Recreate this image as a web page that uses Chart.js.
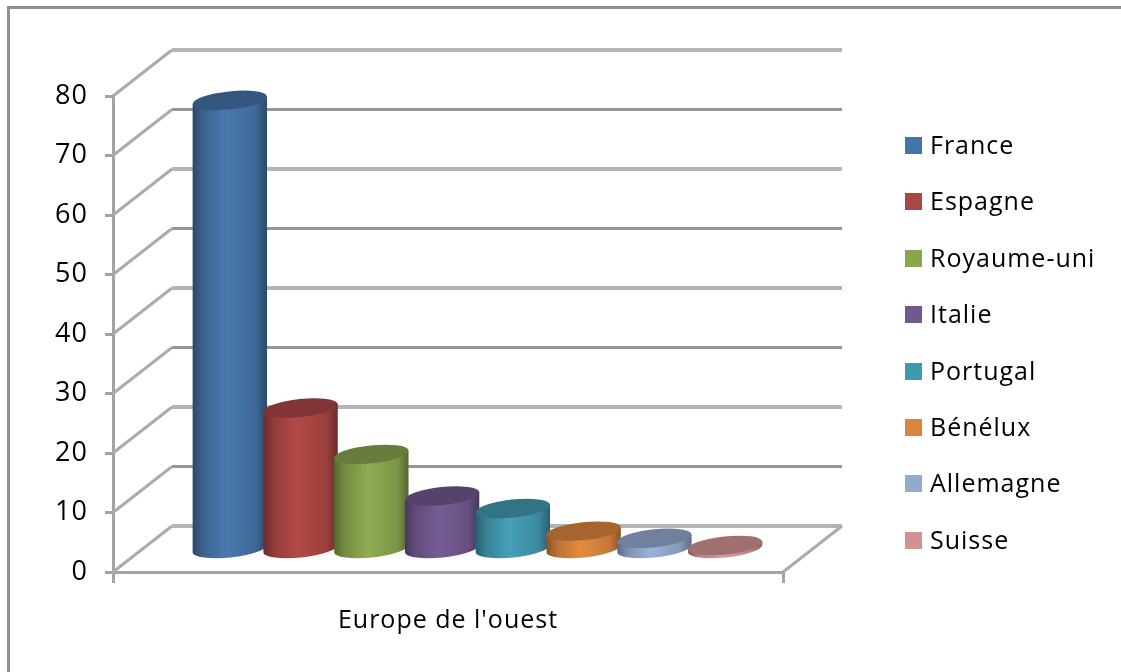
<!DOCTYPE html>
<html>
<head>
<meta charset="utf-8">
<script src="https://cdn.jsdelivr.net/npm/chart.js@4"></script>
<style>
html, body { margin:0; padding:0; width:1121px; height:672px; overflow:hidden; background:#fff; }
#frame { position:absolute; left:7px; top:6px; width:1300px; height:900px; border:3px solid #8f8f8f; filter:blur(0.4px); }
#chartWrap { position:absolute; left:0; top:0; width:1121px; height:672px; filter:blur(0.5px); }
.graphLegendBox { position:absolute; left:905px; top:116px; font:25px "Open Sans", sans-serif; letter-spacing:1px; color:#000; filter:blur(0.3px); }
.graphLegendBox ul { list-style:none; margin:0; padding:0; }
.graphLegendBox li { height:56.4px; line-height:56.4px; white-space:nowrap; }
.graphLegendBox span { display:inline-block; width:17px; height:17px; margin-right:8px; }
</style>
</head>
<body>
<div id="frame"></div>
<div id="chartWrap"><canvas id="chart" width="1121" height="672"></canvas></div>
<script>
var categories = ["Europe de l'ouest"];
var countries = ['France','Espagne','Royaume-uni','Italie','Portugal','Bénélux','Allemagne','Suisse'];
var shares = [75.4, 23.7, 15.9, 8.9, 6.8, 3, 1.8, 0.6];
var yTicks = [0, 80, 10]; // min, max, step
var barColors = ['#4573a7','#aa4644','#89a54e','#71588f','#4298af','#db843d','#93a9cf','#d19392'];

var depthX = 59, depthY = -46;
var tilt = -6 * Math.PI / 180;

var shade = function(hex, f) {
	var n = parseInt(hex.slice(1), 16);
	var r = Math.min(255, Math.round((n >> 16) * f));
	var g = Math.min(255, Math.round(((n >> 8) & 255) * f));
	var b = Math.min(255, Math.round((n & 255) * f));
	return 'rgb(' + r + ',' + g + ',' + b + ')';
};

var drawCylinder = function(ctx, bar, color) {
	var cx = bar.x + depthX / 2;
	var top = bar.y + depthY / 2;
	var bottom = bar.base + depthY / 2 + 1;
	var rx = bar.width / 2 + 2;
	var ry = 9;
	var dx = rx * Math.cos(tilt), dy = rx * Math.sin(tilt);

	var grad = ctx.createLinearGradient(cx - rx, 0, cx + rx, 0);
	grad.addColorStop(0, shade(color, 0.62));
	grad.addColorStop(0.14, shade(color, 0.85));
	grad.addColorStop(0.45, shade(color, 1.05));
	grad.addColorStop(0.85, shade(color, 0.9));
	grad.addColorStop(1, shade(color, 0.62));

	ctx.beginPath();
	ctx.moveTo(cx - dx, top - dy);
	ctx.lineTo(cx - dx, bottom - dy);
	ctx.ellipse(cx, bottom, rx, ry, tilt, Math.PI, 0, true);
	ctx.lineTo(cx + dx, top + dy);
	ctx.closePath();
	ctx.fillStyle = grad;
	ctx.fill();

	ctx.beginPath();
	ctx.ellipse(cx, top, rx, ry, tilt, 0, Math.PI * 2);
	ctx.fillStyle = shade(color, 0.76);
	ctx.fill();
};

// back wall, floor and the cylinders, the library's bars only give the positions
var wall3d = {
	id: 'wall3d',
	beforeDraw: function(chart) {
		chart.ctx.letterSpacing = '1px';
	},
	beforeDatasetsDraw: function(chart) {
		var ctx = chart.ctx;
		var area = chart.chartArea;
		var y = chart.scales.y;
		ctx.save();
		y.ticks.forEach(function(t) {
			var py = y.getPixelForValue(t.value);
			ctx.lineWidth = 3;
			ctx.strokeStyle = '#ababab';
			ctx.beginPath();
			ctx.moveTo(area.left, py);
			ctx.lineTo(area.left + depthX, py + depthY);
			ctx.stroke();
			// every other line comes out lighter and wider in the scan
			var light = t.value % 20 === 0;
			ctx.lineWidth = light ? 4 : 3;
			ctx.strokeStyle = light ? '#b4b4b4' : '#969696';
			ctx.beginPath();
			ctx.moveTo(area.left + depthX, py + depthY);
			ctx.lineTo(area.right + depthX, py + depthY);
			ctx.stroke();
		});
		ctx.lineWidth = 3;
		ctx.strokeStyle = '#ababab';
		ctx.beginPath();
		ctx.moveTo(area.right, area.bottom);
		ctx.lineTo(area.right + depthX, area.bottom + depthY);
		ctx.stroke();
		for (var i = 0; i < countries.length; i++) {
			drawCylinder(ctx, chart.getDatasetMeta(i).data[0], barColors[i]);
		}
		ctx.restore();
		return false;
	}
};

var chartSet = new Chart(document.getElementById('chart'), {
	type: 'bar',
	data: {
		labels: categories,
		datasets: countries.map(function(name, i) {
			return { label: name, data: [shares[i]], backgroundColor: barColors[i] };
		})
	},
	options: {
		responsive: false,
		animation: false,
		categoryPercentage: 0.845,
		barPercentage: 1,
		layout: { padding: { left: 0, right: 338, top: 96, bottom: 0 } },
		plugins: { legend: { display: false }, tooltip: { enabled: false } },
		scales: {
			x: {
				afterFit: function(s) { s.height = 100; },
				grid: { offset: true, drawOnChartArea: false, tickLength: 11, color: '#a3a3a3', lineWidth: 3 },
				border: { color: '#a3a3a3', width: 3 },
				ticks: { color: '#000', padding: 23, font: { family: 'Open Sans', size: 25 } }
			},
			y: {
				min: yTicks[0],
				max: yTicks[1],
				afterFit: function(s) { s.width = 113; },
				grid: { drawOnChartArea: false, tickLength: 8, color: '#a3a3a3', lineWidth: 3 },
				border: { color: '#a3a3a3', width: 3 },
				ticks: { stepSize: yTicks[2], color: '#000', padding: 17, font: { family: 'Open Sans', size: 27 } }
			}
		}
	},
	plugins: [wall3d]
});

var labelItems = chartSet.options.plugins.legend.labels.generateLabels(chartSet);
var html = '<div class="graphLegendBox"><ul>';
for (var i = 0; i < labelItems.length; i++) {
	html += '<li><span style="background-color:' + labelItems[i].fillStyle + '" aria-hidden="true"></span>' + labelItems[i].text + '</li>';
}
html += '</ul></div>';
document.body.insertAdjacentHTML('beforeend', html);
</script>
</body>
</html>
